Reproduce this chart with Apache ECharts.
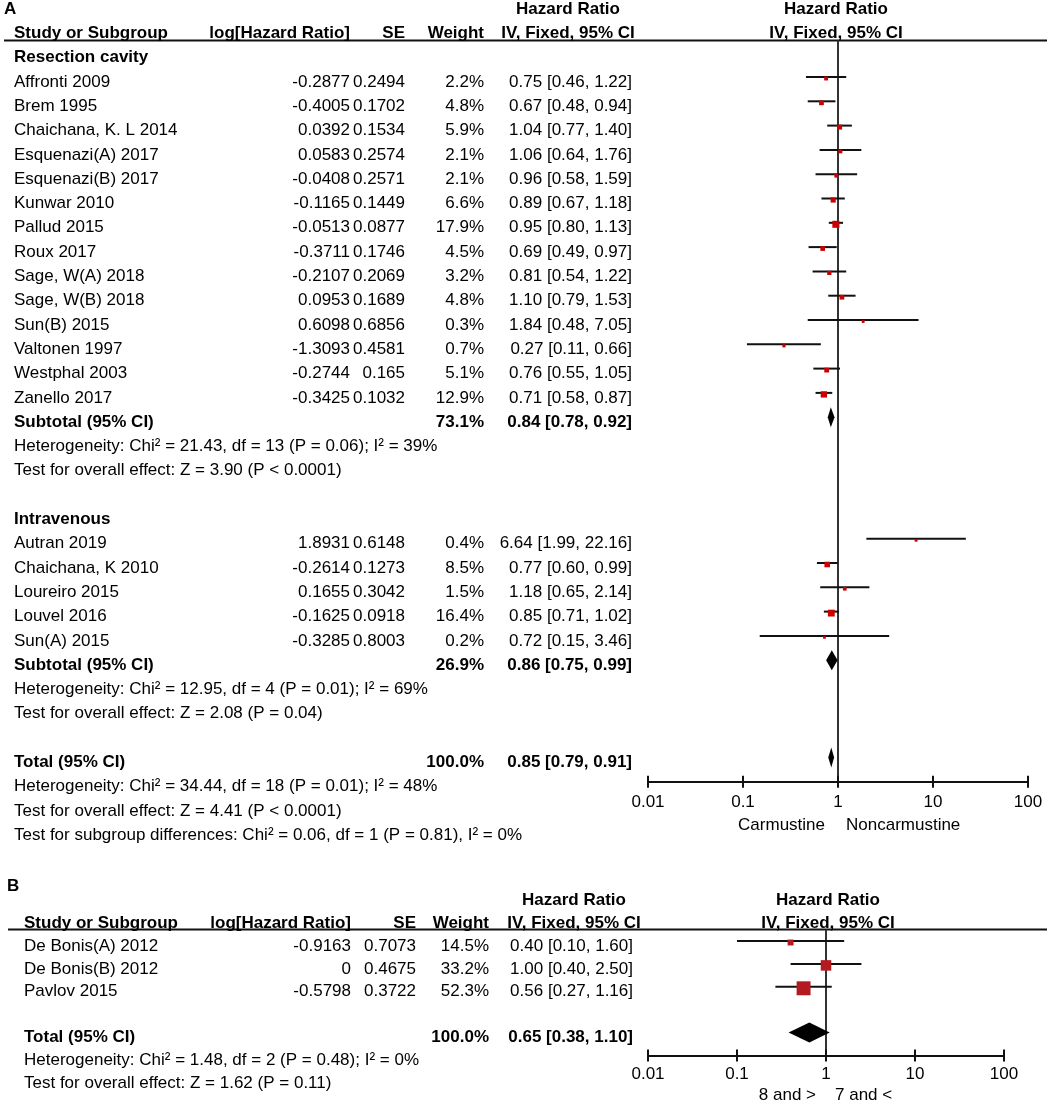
<!DOCTYPE html>
<html><head><meta charset="utf-8">
<script src="https://cdn.jsdelivr.net/npm/echarts@6/dist/echarts.min.js"></script>
<style>html,body{margin:0;padding:0;background:#fff}#c{width:1047px;height:1103px}</style>
</head><body><div id="c"></div>
<script>
// ---------------- DATA ----------------
const headerTop = 'Hazard Ratio';
const headerSub = 'IV, Fixed, 95% CI';
const tableHeaders = ['Study or Subgroup', 'log[Hazard Ratio]', 'SE', 'Weight'];

// Panel A – Resection cavity
const resectionTitle = 'Resection cavity';
const resectionStudies = ['Affronti 2009','Brem 1995','Chaichana, K. L 2014','Esquenazi(A) 2017','Esquenazi(B) 2017','Kunwar 2010','Pallud 2015','Roux 2017','Sage, W(A) 2018','Sage, W(B) 2018','Sun(B) 2015','Valtonen 1997','Westphal 2003','Zanello 2017'];
const resectionLogHR = ['-0.2877','-0.4005','0.0392','0.0583','-0.0408','-0.1165','-0.0513','-0.3711','-0.2107','0.0953','0.6098','-1.3093','-0.2744','-0.3425'];
const resectionSE = ['0.2494','0.1702','0.1534','0.2574','0.2571','0.1449','0.0877','0.1746','0.2069','0.1689','0.6856','0.4581','0.165','0.1032'];
const resectionWeight = [2.2,4.8,5.9,2.1,2.1,6.6,17.9,4.5,3.2,4.8,0.3,0.7,5.1,12.9];
const resectionHR = [0.75,0.67,1.04,1.06,0.96,0.89,0.95,0.69,0.81,1.10,1.84,0.27,0.76,0.71];
const resectionLo = [0.46,0.48,0.77,0.64,0.58,0.67,0.80,0.49,0.54,0.79,0.48,0.11,0.55,0.58];
const resectionHi = [1.22,0.94,1.40,1.76,1.59,1.18,1.13,0.97,1.22,1.53,7.05,0.66,1.05,0.87];
const resectionSubtotal = [0.84,0.78,0.92];
const resectionSubWeight = 73.1;
const resectionHet = 'Heterogeneity: Chi² = 21.43, df = 13 (P = 0.06); I² = 39%';
const resectionTest = 'Test for overall effect: Z = 3.90 (P < 0.0001)';

// Panel A – Intravenous
const ivTitle = 'Intravenous';
const ivStudies = ['Autran 2019','Chaichana, K 2010','Loureiro 2015','Louvel 2016','Sun(A) 2015'];
const ivLogHR = ['1.8931','-0.2614','0.1655','-0.1625','-0.3285'];
const ivSE = ['0.6148','0.1273','0.3042','0.0918','0.8003'];
const ivWeight = [0.4,8.5,1.5,16.4,0.2];
const ivHR = [6.64,0.77,1.18,0.85,0.72];
const ivLo = [1.99,0.60,0.65,0.71,0.15];
const ivHi = [22.16,0.99,2.14,1.02,3.46];
const ivSubtotal = [0.86,0.75,0.99];
const ivSubWeight = 26.9;
const ivHet = 'Heterogeneity: Chi² = 12.95, df = 4 (P = 0.01); I² = 69%';
const ivTest = 'Test for overall effect: Z = 2.08 (P = 0.04)';

// Panel A – Total
const totalA = [0.85,0.79,0.91];
const totalAWeight = 100.0;
const totalAStats = ['Heterogeneity: Chi² = 34.44, df = 18 (P = 0.01); I² = 48%','Test for overall effect: Z = 4.41 (P < 0.0001)','Test for subgroup differences: Chi² = 0.06, df = 1 (P = 0.81), I² = 0%'];
const favourA = ['Carmustine','Noncarmustine'];

// Panel B
const bStudies = ['De Bonis(A) 2012','De Bonis(B) 2012','Pavlov 2015'];
const bLogHR = ['-0.9163','0','-0.5798'];
const bSE = ['0.7073','0.4675','0.3722'];
const bWeight = [14.5,33.2,52.3];
const bHR = [0.40,1.00,0.56];
const bLo = [0.10,0.40,0.27];
const bHi = [1.60,2.50,1.16];
const totalB = [0.65,0.38,1.10];
const totalBWeight = 100.0;
const totalBStats = ['Heterogeneity: Chi² = 1.48, df = 2 (P = 0.48); I² = 0%','Test for overall effect: Z = 1.62 (P = 0.11)'];
const favourB = ['8 and >','7 and <'];

const totalLabel = 'Total (95% CI)';
const subtotalLabel = 'Subtotal (95% CI)';
const panelLabels = ['A','B'];
const xTicks = [0.01,0.1,1,10,100];
const xTickLabels = ['0.01','0.1','1','10','100'];

// ---------------- STYLE / LAYOUT ----------------
const FONT = '"Liberation Sans", Arial, Helvetica, sans-serif';
const FS = 17;
const TEXT_DY = 5;
const colsA = {study:14, log:350, se:405, weight:484, hr:632, hrHead:568, plotHead:836, ruleStart:4};
const colsB = {study:24, log:351, se:416, weight:489, hr:633, hrHead:574, plotHead:828, ruleStart:8};

function f2(v){return v.toFixed(2);}
function hrText(e,l,h){return f2(e)+' ['+f2(l)+', '+f2(h)+']';}
function cell(text,x,align,bold){return {text:text,x:x,align:align,bold:!!bold};}

function buildPanel(groups, total, totalWeight, totalStats, c){
  const rows=[], cis=[], boxes=[], diamonds=[];
  let r=-2;
  rows.push({r:r, cells:[cell(headerTop,c.hrHead,'center',true), cell(headerTop,c.plotHead,'center',true)]}); r++;
  rows.push({r:r, cells:[cell(tableHeaders[0],c.study,'left',true), cell(tableHeaders[1],c.log,'right',true), cell(tableHeaders[2],c.se,'right',true), cell(tableHeaders[3],c.weight,'right',true), cell(headerSub,c.hrHead,'center',true), cell(headerSub,c.plotHead,'center',true)]}); r++;
  groups.forEach(function(g,gi){
    if(gi>0) r++;
    if(g.title){ rows.push({r:r, cells:[cell(g.title,c.study,'left',true)]}); r++; }
    g.names.forEach(function(n,i){
      rows.push({r:r, cells:[cell(n,c.study,'left'), cell(g.logHR[i],c.log,'right'), cell(g.se[i],c.se,'right'), cell(g.weight[i].toFixed(1)+'%',c.weight,'right'), cell(hrText(g.hr[i],g.lo[i],g.hi[i]),c.hr,'right')]});
      cis.push([g.lo[i],g.hi[i],r]);
      boxes.push([g.hr[i],r,g.weight[i]]);
      r++;
    });
    if(g.sub){
      rows.push({r:r, cells:[cell(subtotalLabel,c.study,'left',true), cell(g.subWeight.toFixed(1)+'%',c.weight,'right',true), cell(hrText(g.sub[0],g.sub[1],g.sub[2]),c.hr,'right',true)]});
      diamonds.push([g.sub[0],g.sub[1],g.sub[2],r]); r++;
      rows.push({r:r, cells:[cell(g.het,c.study,'left')]}); r++;
      rows.push({r:r, cells:[cell(g.test,c.study,'left')]}); r++;
    }
  });
  r++;
  rows.push({r:r, cells:[cell(totalLabel,c.study,'left',true), cell(totalWeight.toFixed(1)+'%',c.weight,'right',true), cell(hrText(total[0],total[1],total[2]),c.hr,'right',true)]});
  diamonds.push([total[0],total[1],total[2],r]);
  const totalRow = r; r++;
  totalStats.forEach(function(s){ rows.push({r:r, cells:[cell(s,c.study,'left')]}); r++; });
  return {rows:rows, cis:cis, boxes:boxes, diamonds:diamonds, axisRow: totalRow+1};
}

const panelA = buildPanel([
  {title:resectionTitle, names:resectionStudies, logHR:resectionLogHR, se:resectionSE, weight:resectionWeight, hr:resectionHR, lo:resectionLo, hi:resectionHi, sub:resectionSubtotal, subWeight:resectionSubWeight, het:resectionHet, test:resectionTest},
  {title:ivTitle, names:ivStudies, logHR:ivLogHR, se:ivSE, weight:ivWeight, hr:ivHR, lo:ivLo, hi:ivHi, sub:ivSubtotal, subWeight:ivSubWeight, het:ivHet, test:ivTest}
], totalA, totalAWeight, totalAStats, colsA);

const panelB = buildPanel([
  {title:null, names:bStudies, logHR:bLogHR, se:bSE, weight:bWeight, hr:bHR, lo:bLo, hi:bHi, sub:null}
], totalB, totalBWeight, totalBStats, colsB);

function tickLabel(v){
  let best=0, bd=1e9;
  xTicks.forEach(function(t,i){ const d=Math.abs(Math.log10(t)-Math.log10(v)); if(d<bd){bd=d;best=i;} });
  return xTickLabels[best];
}

function xAxisFor(gridIndex, margin){
  return {type:'log', logBase:10, min:xTicks[0], max:xTicks[xTicks.length-1], gridIndex:gridIndex, position:'bottom',
    splitLine:{show:false}, minorTick:{show:false}, minorSplitLine:{show:false},
    axisLine:{show:true, onZero:false, lineStyle:{color:'#111', width:2}},
    axisTick:{show:false},
    axisLabel:{show:true, margin:margin, color:'#000', fontFamily:FONT, fontSize:FS, formatter:tickLabel}};
}

function textStyle(text, bold, align){
  return {text:text, font:(bold?'bold ':'')+FS+'px '+FONT, fill:'#000', textAlign:align, textVerticalAlign:'middle', align:align, verticalAlign:'middle'};
}

function textSeries(panel, xi, yi){
  return {type:'custom', xAxisIndex:xi, yAxisIndex:yi, clip:false, silent:true,
    encode:{x:0, y:1},
    data: panel.rows.map(function(row){return [1,row.r];}),
    renderItem: function(params, api){
      const row = panel.rows[params.dataIndex];
      const y = api.coord([1,row.r])[1] + TEXT_DY;
      return {type:'group', children: row.cells.map(function(c){
        return {type:'text', x:c.x, y:y, style:textStyle(c.text, c.bold, c.align)};
      })};
    }};
}

function tickSeries(panel, xi, yi){
  return {type:'custom', xAxisIndex:xi, yAxisIndex:yi, clip:false, silent:true, encode:{x:0, y:1},
    data: xTicks.map(function(t){return [t, panel.axisRow];}),
    renderItem: function(params, api){
      const p = api.coord([api.value(0), api.value(1)]);
      return {type:'line', shape:{x1:p[0], y1:p[1]-6, x2:p[0], y2:p[1]+6}, style:{stroke:'#111', lineWidth:2}};
    }};
}

function ciSeries(panel, xi, yi){
  return {type:'custom', xAxisIndex:xi, yAxisIndex:yi, clip:false, silent:true, encode:{x:[0,1], y:2},
    data: panel.cis,
    renderItem: function(params, api){
      const p1 = api.coord([api.value(0), api.value(2)]);
      const p2 = api.coord([api.value(1), api.value(2)]);
      return {type:'line', shape:{x1:p1[0], y1:p1[1], x2:p2[0], y2:p2[1]}, style:{stroke:'#111', lineWidth:2}};
    }};
}

function boxSeries(panel, xi, yi, color, sizeFn){
  return {type:'scatter', xAxisIndex:xi, yAxisIndex:yi, silent:true, symbol:'rect',
    symbolOffset:[0,1.5], z:3,
    symbolSize: function(v){return sizeFn(v[2]);},
    itemStyle:{color:color, opacity:1},
    data: panel.boxes};
}

function diamondSeries(panel, xi, yi){
  return {type:'custom', xAxisIndex:xi, yAxisIndex:yi, clip:false, silent:true, encode:{x:[0,1,2], y:3},
    data: panel.diamonds,
    renderItem: function(params, api){
      const r = api.value(3);
      const pe = api.coord([api.value(0), r]);
      const pl = api.coord([api.value(1), r]);
      const ph = api.coord([api.value(2), r]);
      const h = 10;
      return {type:'polygon', shape:{points:[[pl[0],pe[1]],[pe[0],pe[1]-h],[ph[0],pe[1]],[pe[0],pe[1]+h]]}, style:{fill:'#000'}};
    }};
}

function refSeries(panel, xi, yi, c, favour, favDy, favGapL, favGapR){
  return {type:'custom', xAxisIndex:xi, yAxisIndex:yi, clip:false, silent:true, encode:{x:0, y:1},
    data:[[1, panel.axisRow]],
    renderItem: function(params, api){
      const top = api.coord([1,-0.5]);
      const bot = api.coord([1, panel.axisRow]);
      return {type:'group', children:[
        {type:'line', shape:{x1:c.ruleStart, y1:top[1], x2:1047, y2:top[1]}, style:{stroke:'#111', lineWidth:2}},
        {type:'line', shape:{x1:top[0], y1:top[1], x2:bot[0], y2:bot[1]}, style:{stroke:'#333', lineWidth:2}},
        {type:'text', x:bot[0]-favGapL, y:bot[1]+favDy, style:textStyle(favour[0], false, 'right')},
        {type:'text', x:bot[0]+favGapR, y:bot[1]+favDy, style:textStyle(favour[1], false, 'left')}
      ]};
    }};
}

const sizeA = function(w){return 2.2 + 1.15*Math.sqrt(w);};
const sizeB = function(w){return -2.9 + 2.33*Math.sqrt(w);};

const option = {
  animation:false,
  backgroundColor:'#fff',
  title:[
    {text:panelLabels[0], left:4, top:1, padding:0, textStyle:{fontFamily:FONT, fontSize:FS, fontWeight:'bold', color:'#000'}},
    {text:panelLabels[1], left:7, top:878, padding:0, textStyle:{fontFamily:FONT, fontSize:FS, fontWeight:'bold', color:'#000'}}
  ],
  grid:[
    {left:648, width:380, top:4.1, height:777.6},
    {left:648, width:356, top:895.2, height:160.3}
  ],
  xAxis:[xAxisFor(0, 12), xAxisFor(1, 10)],
  yAxis:[
    {type:'value', gridIndex:0, min:-2, max:panelA.axisRow, inverse:true, show:false},
    {type:'value', gridIndex:1, min:-2, max:panelB.axisRow, inverse:true, show:false}
  ],
  series:[
    refSeries(panelA, 0, 0, colsA, favourA, 44, 13, 8),
    tickSeries(panelA, 0, 0),
    textSeries(panelA, 0, 0),
    ciSeries(panelA, 0, 0),
    boxSeries(panelA, 0, 0, '#cc0000', sizeA),
    diamondSeries(panelA, 0, 0),
    refSeries(panelB, 1, 1, colsB, favourB, 40, 10, 9),
    tickSeries(panelB, 1, 1),
    textSeries(panelB, 1, 1),
    ciSeries(panelB, 1, 1),
    boxSeries(panelB, 1, 1, '#b31b20', sizeB),
    diamondSeries(panelB, 1, 1)
  ]
};

const chart = echarts.init(document.getElementById('c'), null, {renderer:'canvas'});
chart.setOption(option);
</script>
</body></html>
